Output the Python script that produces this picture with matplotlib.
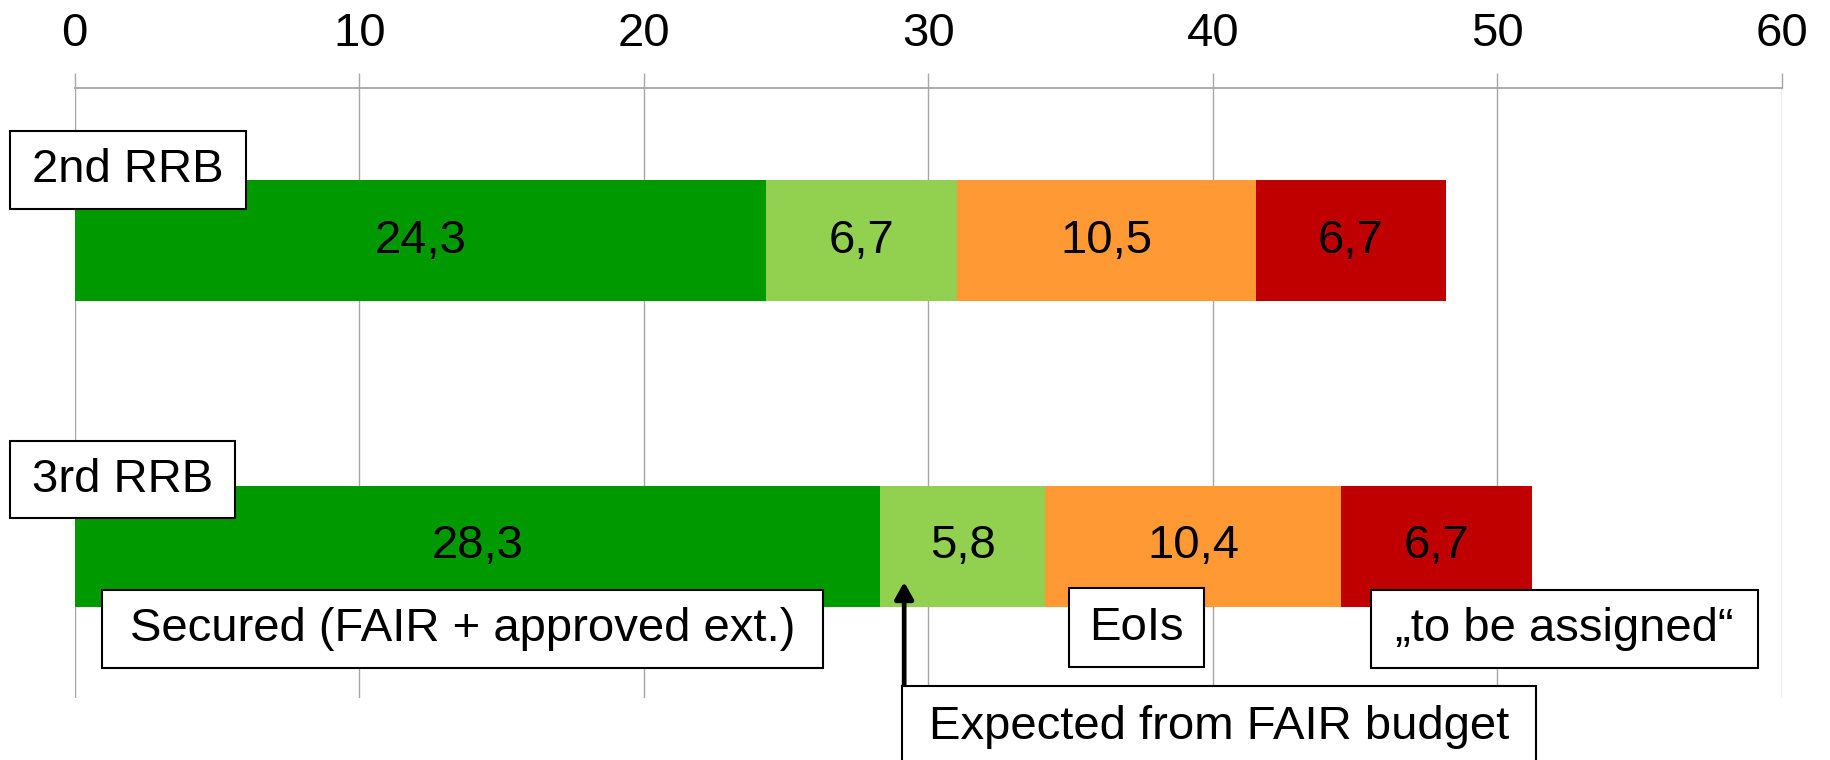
import matplotlib
matplotlib.use("Agg")
import matplotlib.pyplot as plt
from matplotlib.patches import Rectangle

plt.rcParams['font.family'] = ['Liberation Sans', 'DejaVu Sans']

rounds = ['2nd RRB', '3rd RRB']
secured = [24.3, 28.3]
expected_fair = [6.7, 5.8]
eois = [10.5, 10.4]
to_assign = [6.7, 6.7]
seg_colors = ['#009900', '#92D050', '#FF9933', '#C00000']
xticks = [0, 10, 20, 30, 40, 50, 60]

W, H = 1830, 760
fig = plt.figure(figsize=(W / 100, H / 100), dpi=100, facecolor='white')
# axes placed so that 0..60 spans the same pixels as the reference
ax = fig.add_axes([74.7 / W, 62 / H, (1782 - 74.7) / W, (698 - 88) / H])

fs = 34
grid_col = '#A6A6A6'

ypos = [0, 1]
left = [0, 0]
for vals, col in zip([secured, expected_fair, eois, to_assign], seg_colors):
    bars = ax.barh(ypos, vals, left=left, height=0.396, color=col, zorder=2)
    for b, v in zip(bars, vals):
        ax.text(b.get_x() + b.get_width() / 2, b.get_y() + b.get_height() / 2,
                f'{v:.1f}'.replace('.', ','), ha='center', va='center',
                fontsize=fs, color='black', zorder=3)
    left = [l + v for l, v in zip(left, vals)]

ax.set_xlim(0, 60)
ax.set_ylim(1.4975, -0.4992)
ax.set_xticks(xticks)
ax.set_yticks([])
ax.xaxis.tick_top()
ax.tick_params(axis='x', direction='out', length=11, width=1, color=grid_col,
               labelsize=fs, pad=12)
ax.grid(axis='x', color=grid_col, linewidth=1, zorder=0)
ax.set_axisbelow(True)
for s in ['left', 'right', 'bottom']:
    ax.spines[s].set_visible(False)
ax.spines['top'].set_color(grid_col)
ax.spines['top'].set_linewidth(1.3)


def label_box(x0, y0, x1, y1, text, ty=None):
    fig.patches.append(Rectangle((x0 / W, 1 - y1 / H), (x1 - x0) / W, (y1 - y0) / H,
                                 transform=fig.transFigure, facecolor='white',
                                 edgecolor='black', linewidth=1.5, zorder=4))
    if ty is None:
        ty = (y0 + y1) / 2
    fig.text((x0 + x1) / 2 / W, 1 - ty / H, text, ha='center', va='center',
             fontsize=fs, zorder=5)


label_box(10, 131, 246, 209, rounds[0])
label_box(10, 441, 235, 518, rounds[1])
label_box(102, 590, 823, 668, 'Secured (FAIR + approved ext.)')
label_box(1069, 588, 1204, 667, 'EoIs')
label_box(1371, 590, 1758, 668, '\u201eto be assigned\u201c')
label_box(902, 686, 1536, 800, 'Expected from FAIR budget', ty=727)

ax.annotate('', xy=(29.15, 1.118), xytext=(29.15, 1.46), xycoords='data',
            arrowprops=dict(arrowstyle='-|>,head_length=0.5,head_width=0.28',
                            color='black', lw=3.4, mutation_scale=20,
                            shrinkA=0, shrinkB=0),
            annotation_clip=False, zorder=6)

fig.savefig('out.png', dpi=100, facecolor='white')
